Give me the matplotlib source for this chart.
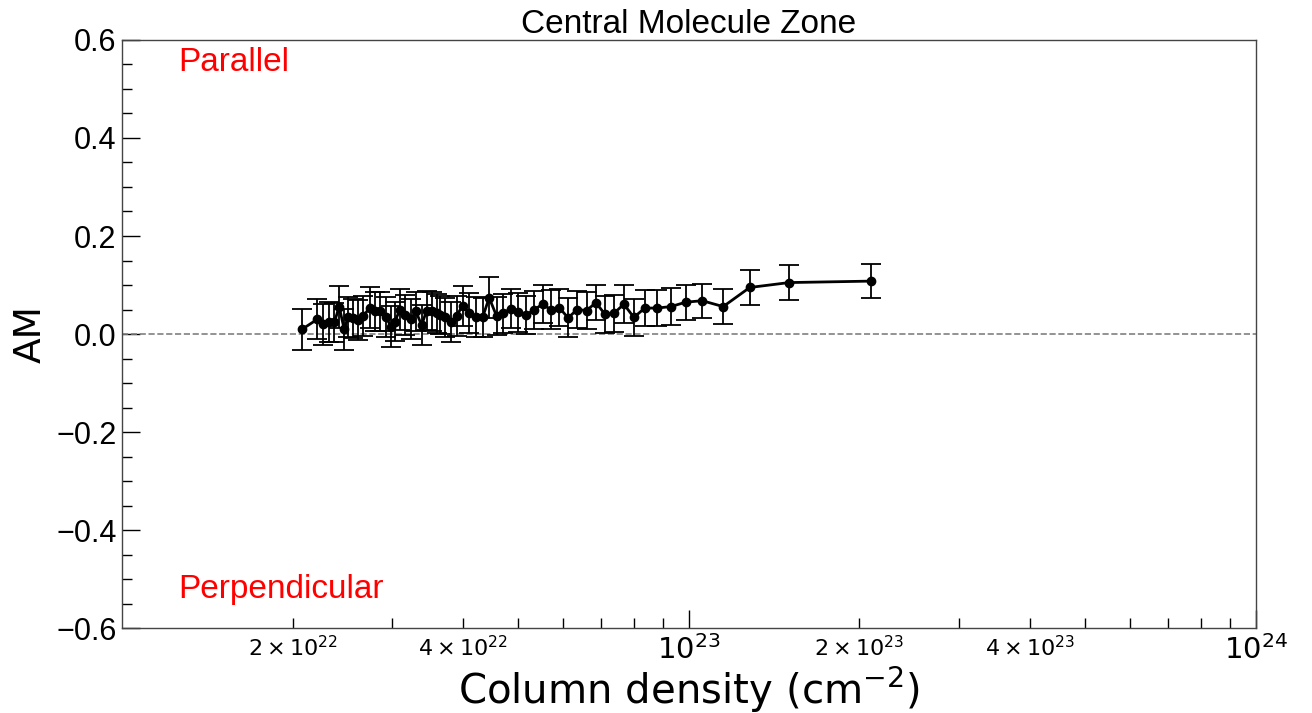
import matplotlib
matplotlib.use("Agg")
import matplotlib.pyplot as plt
from matplotlib.ticker import FixedLocator, MultipleLocator, FuncFormatter
import numpy as np

plt.rcParams['mathtext.fontset'] = 'dejavusans'

# Column density bins (cm^-2) and alignment measure
col_density = [
    2.08e22, 2.21e22, 2.265e22, 2.32e22, 2.37e22, 2.416e22, 2.466e22, 2.506e22,
    2.558e22, 2.611e22, 2.665e22, 2.738e22, 2.794e22, 2.851e22, 2.922e22, 2.982e22,
    3.030e22, 3.092e22, 3.156e22, 3.230e22, 3.300e22, 3.378e22, 3.447e22, 3.517e22,
    3.589e22, 3.638e22, 3.713e22, 3.799e22, 3.893e22, 3.989e22, 4.097e22, 4.210e22,
    4.327e22, 4.444e22, 4.579e22, 4.704e22, 4.847e22, 4.999e22, 5.158e22, 5.328e22,
    5.521e22, 5.703e22, 5.906e22, 6.125e22, 6.353e22, 6.601e22, 6.855e22, 7.118e22,
    7.374e22, 7.681e22, 7.999e22, 8.364e22, 8.792e22, 9.296e22, 9.878e22, 1.056e23,
    1.150e23, 1.281e23, 1.503e23, 2.100e23,
]
am = [
    0.010, 0.030, 0.020, 0.024, 0.024, 0.056, 0.010, 0.035,
    0.032, 0.029, 0.037, 0.054, 0.046, 0.046, 0.035, 0.015,
    0.025, 0.050, 0.039, 0.030, 0.046, 0.018, 0.048, 0.046,
    0.042, 0.039, 0.034, 0.025, 0.037, 0.058, 0.043, 0.034,
    0.034, 0.074, 0.037, 0.042, 0.052, 0.044, 0.039, 0.049,
    0.061, 0.050, 0.054, 0.033, 0.050, 0.048, 0.064, 0.040,
    0.042, 0.061, 0.034, 0.053, 0.053, 0.056, 0.065, 0.068,
    0.056, 0.095, 0.105, 0.108,
]
am_err = [
    0.042, 0.041, 0.042, 0.041, 0.040, 0.043, 0.042, 0.041,
    0.040, 0.041, 0.040, 0.041, 0.040, 0.040, 0.041, 0.042,
    0.040, 0.041, 0.040, 0.041, 0.040, 0.041, 0.040, 0.040,
    0.040, 0.039, 0.040, 0.041, 0.040, 0.041, 0.040, 0.041,
    0.040, 0.042, 0.039, 0.040, 0.039, 0.040, 0.039, 0.039,
    0.039, 0.039, 0.038, 0.040, 0.038, 0.038, 0.036, 0.038,
    0.038, 0.039, 0.038, 0.037, 0.037, 0.037, 0.036, 0.035,
    0.035, 0.036, 0.035, 0.035,
]

fig = plt.figure(figsize=(13.12, 7.13), dpi=100)
ax = fig.add_axes([0.093, 0.119, 0.864, 0.825])

ax.axhline(0, color='gray', ls='--', lw=1.2)
ax.errorbar(col_density, am, yerr=am_err, color='k', marker='o', ms=6,
            lw=2, elinewidth=1.3, capsize=7, capthick=1.3)

ax.set_xscale('log')
ax.set_xlim(1e22, 1e24)
ax.set_ylim(-0.6, 0.6)

ax.yaxis.set_major_locator(MultipleLocator(0.2))
ax.yaxis.set_minor_locator(MultipleLocator(0.05))
ax.yaxis.set_major_formatter(FuncFormatter(lambda v, p: f"{v:.1f}".replace('-', '\u2212')))

# x: major labels at 1e23 and 1e24 only, minor labels at 2 and 4
ax.xaxis.set_major_locator(FixedLocator([1e23, 1e24]))
ax.xaxis.set_major_formatter(FuncFormatter(
    lambda v, p: r'$\mathdefault{10^{%d}}$' % int(round(np.log10(v)))))
minors = [m * 10.0**e for e in (22, 23) for m in range(2, 10)]
ax.xaxis.set_minor_locator(FixedLocator(minors))
def minor_fmt(v, p):
    e = int(np.floor(np.log10(v) + 1e-9))
    m = int(round(v / 10.0**e))
    if m in (2, 4):
        return r'$\mathdefault{%d\times10^{%d}}$' % (m, e)
    return ''
ax.xaxis.set_minor_formatter(FuncFormatter(minor_fmt))

ax.tick_params(axis='both', which='both', direction='in', top=False, right=False)
ax.tick_params(axis='both', which='major', length=13, width=1)
ax.tick_params(axis='both', which='minor', length=7, width=1)
ax.tick_params(axis='y', which='major', labelsize=22, pad=4)
ax.tick_params(axis='x', which='major', labelsize=21, pad=5)
ax.tick_params(axis='x', which='minor', labelsize=16, pad=5)
for lbl in ax.get_yticklabels():
    lbl.set_family('Liberation Sans')

for s in ax.spines.values():
    s.set_color('#444444')
    s.set_linewidth(1)

ax.set_xlabel(r'Column density (cm$^{-2}$)', fontsize=29, family='DejaVu Sans', labelpad=0)
ax.set_ylabel('AM', fontsize=27, family='DejaVu Sans', labelpad=5)
ax.set_title('Central Molecule Zone', fontsize=24, family='Liberation Sans', pad=1)

ax.text(0.05, 0.947, 'Parallel', color='red', fontsize=24, family='Liberation Sans',
        transform=ax.transAxes, va='baseline')
ax.text(0.05, 0.051, 'Perpendicular', color='red', fontsize=24, family='Liberation Sans',
        transform=ax.transAxes, va='baseline')

fig.savefig('out.png', dpi=100)
